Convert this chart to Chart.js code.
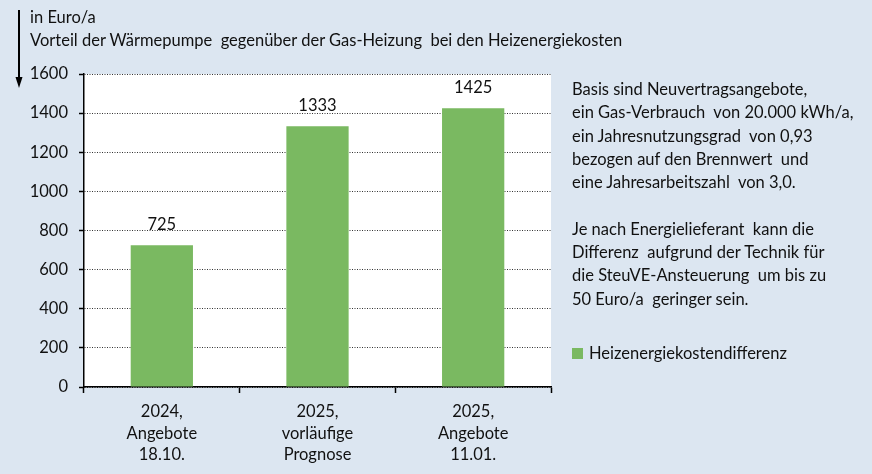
<!DOCTYPE html>
<html lang="de">
<head>
<meta charset="utf-8">
<title>Vorteil der Wärmepumpe</title>
<script src="https://cdn.jsdelivr.net/npm/chart.js@4.4.0/dist/chart.umd.min.js"></script>
<style>
  body { margin: 0; background: #dce6f1; font-family: Lato, "Noto Sans", sans-serif; color: #111; }
  #wrap { position: relative; width: 872px; height: 474px; overflow: hidden; }
  #chart { position: absolute; left: 0; top: 0; }
  .unit { position: absolute; left: 30px; top: 6px; font-size: 16.5px; line-height: 23px; white-space: pre; }
  .note { position: absolute; left: 572px; top: 78px; font-size: 16.5px; line-height: 23.3px; white-space: pre; }
  #legend { position: absolute; left: 572px; top: 343px; font-size: 16.5px; display: flex; align-items: center; }
  #legend .box { width: 11px; height: 11px; margin-right: 6px; }
  #arrow { position: absolute; left: 0; top: 0; }
</style>
</head>
<body>
<div id="wrap">
  <canvas id="chart" width="872" height="474"></canvas>
  <svg id="arrow" width="40" height="100">
    <line x1="19" y1="10" x2="19" y2="80" stroke="#000" stroke-width="2" />
    <polygon points="15.5,77 22.5,77 19,88" fill="#000" />
  </svg>
  <div class="unit">in Euro/a
Vorteil der Wärmepumpe  gegenüber der Gas-Heizung  bei den Heizenergiekosten</div>
  <div class="note">Basis sind Neuvertragsangebote,
ein Gas-Verbrauch  von 20.000 kWh/a,
ein Jahresnutzungsgrad  von 0,93
bezogen auf den Brennwert  und
eine Jahresarbeitszahl  von 3,0.

Je nach Energielieferant  kann die
Differenz  aufgrund der Technik für
die SteuVE-Ansteuerung  um bis zu
50 Euro/a  geringer sein.</div>
  <div id="legend"></div>
</div>
<script>
// ---------- Dati ----------
const categories = [
  ["2024,", "Angebote", "18.10."],
  ["2025,", "vorläufige", "Prognose"],
  ["2025,", "Angebote", "11.01."]
];
const values = [725, 1333, 1425];
const seriesLabel = "Heizenergiekostendifferenz";
const yMin = 0;
const yMax = 1600;
const yStep = 200;

const barColor = "#7ab961";
const FONT = "Lato, 'Noto Sans', sans-serif";

// ---------- Plugin ----------
// sfondo bianco solo nell'area del grafico
const plotBg = {
  id: "plotBg",
  beforeDraw(chart) {
    const { ctx, chartArea: a } = chart;
    ctx.save();
    ctx.fillStyle = "#ffffff";
    ctx.fillRect(a.left, a.top, a.right - a.left, a.bottom - a.top);
    ctx.restore();
  }
};

// etichette dei valori sopra le barre
const valueLabels = {
  id: "valueLabels",
  afterDatasetsDraw(chart) {
    const { ctx } = chart;
    const meta = chart.getDatasetMeta(0);
    ctx.save();
    ctx.font = `16.5px ${FONT}`;
    ctx.fillStyle = "#111";
    ctx.textAlign = "center";
    ctx.textBaseline = "middle";
    meta.data.forEach((bar, i) => {
      ctx.fillText(String(values[i]), bar.x, bar.y - 21);
    });
    ctx.restore();
  }
};

new Chart(document.getElementById("chart"), {
  type: "bar",
  data: {
    labels: categories,
    datasets: [{
      label: seriesLabel,
      data: values,
      backgroundColor: barColor,
      borderWidth: 0,
      categoryPercentage: 1,
      barPercentage: 0.4
    }]
  },
  options: {
    responsive: false,
    animation: false,
    devicePixelRatio: 1,
    layout: { padding: { left: 0, top: 74, right: 321, bottom: 0 } },
    plugins: {
      legend: { display: false },
      tooltip: { enabled: false }
    },
    scales: {
      x: {
        offset: true,
        grid: {
          offset: true,
          drawOnChartArea: false,
          drawTicks: true,
          tickLength: 6,
          tickWidth: 1.5,
          tickColor: "#000"
        },
        border: { display: true, color: "#000", width: 1.5 },
        ticks: {
          color: "#111",
          font: { family: FONT, size: 16.5, lineHeight: 1.3 },
          padding: 8,
          maxRotation: 0,
          autoSkip: false
        },
        afterFit: (s) => { s.height = 87; }
      },
      y: {
        min: yMin,
        max: yMax,
        grid: {
          color: "#333",
          lineWidth: 1,
          tickLength: 5,
          tickColor: "#000",
          tickWidth: 1.5,
          tickBorderDash: []
        },
        border: { display: true, color: "#000", width: 1.5, dash: [1, 1.5] },
        ticks: {
          stepSize: yStep,
          color: "#111",
          font: { family: FONT, size: 16.5 },
          padding: 11,
          callback: (v) => String(v)
        },
        afterFit: (s) => { s.width = 84; }
      }
    }
  },
  plugins: [plotBg, valueLabels]
});

// ---------- Legenda HTML ----------
const legend = document.getElementById("legend");
legend.innerHTML = `<span class="box" style="background:${barColor}"></span><span>${seriesLabel}</span>`;
</script>
</body>
</html>
